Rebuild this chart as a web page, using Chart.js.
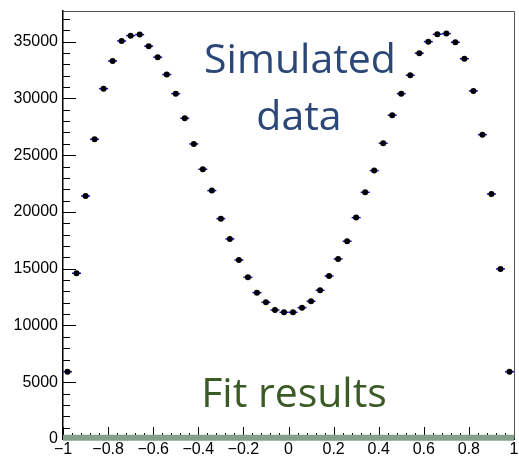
<!DOCTYPE html>
<html lang="en">
<head>
  <meta charset="UTF-8">
  <title>Simulated data vs fit results</title>
  <style>
    html, body { margin: 0; padding: 0; background: #fff; }
    canvas { display: block; }
  </style>
</head>
<body>
  <canvas id="histChart" width="519" height="458"></canvas>

  <script src="https://cdn.jsdelivr.net/npm/chart.js"></script>
  <script>
    // bin centres (50 bins of width 0.04 between -1 and 1)
    const binCenters = [
      -0.98, -0.94, -0.90, -0.86, -0.82, -0.78, -0.74, -0.70, -0.66, -0.62,
      -0.58, -0.54, -0.50, -0.46, -0.42, -0.38, -0.34, -0.30, -0.26, -0.22,
      -0.18, -0.14, -0.10, -0.06, -0.02, 0.02, 0.06, 0.10, 0.14, 0.18,
      0.22, 0.26, 0.30, 0.34, 0.38, 0.42, 0.46, 0.50, 0.54, 0.58,
      0.62, 0.66, 0.70, 0.74, 0.78, 0.82, 0.86, 0.90, 0.94, 0.98
    ];
    const binHalfWidth = 0.02;

    // simulated data counts
    const simulatedCounts = [
      5930, 14600, 21410, 26400, 30860, 33300, 35060, 35530, 35620, 34600,
      33630, 32100, 30420, 28250, 25990, 23760, 21880, 19410, 17620, 15770,
      14240, 12890, 12040, 11360, 11160, 11160, 11570, 12130, 13100, 14360,
      15860, 17420, 19500, 21730, 23640, 26050, 28520, 30420, 32040, 33980,
      35000, 35650, 35710, 34950, 33500, 30660, 26810, 21580, 14980, 5930
    ];

    // fit result (flat band near zero)
    const fitX = [-1, 1];
    const fitY = [100, 100];

    // axis ticks
    const xTickValues = [-1, -0.8, -0.6, -0.4, -0.2, 0, 0.2, 0.4, 0.6, 0.8, 1];
    const xTickLabels = ['\u22121', '\u22120.8', '\u22120.6', '\u22120.4', '\u22120.2', '0', '0.2', '0.4', '0.6', '0.8', '1'];
    const yTickValues = [0, 5000, 10000, 15000, 20000, 25000, 30000, 35000];
    const yTickLabels = ['0', '5000', '10000', '15000', '20000', '25000', '30000', '35000'];

    const axisFont = { family: "'Liberation Sans', Arial, sans-serif", size: 16 };

    // ROOT-like decorations: inward ticks, error bars, frame, overlay texts
    const rootStyle = {
      id: 'rootStyle',
      beforeDatasetsDraw(chart) {
        const ctx = chart.ctx;
        const xs = chart.scales.x, ys = chart.scales.y;
        const a = chart.chartArea;
        ctx.save();
        ctx.strokeStyle = '#000';
        ctx.lineWidth = 1;
        // y ticks (inside)
        for (let v = 0; v <= ys.max; v += 1000) {
          const py = Math.round(ys.getPixelForValue(v)) + 0.5;
          const len = v % 5000 === 0 ? 13 : 7;
          ctx.beginPath();
          ctx.moveTo(a.left, py);
          ctx.lineTo(a.left + len, py);
          ctx.stroke();
        }
        // x ticks (inside)
        for (let i = 0; i <= 50; i++) {
          const v = -1 + i * 0.04;
          const px = Math.round(xs.getPixelForValue(v)) + 0.5;
          const len = i % 5 === 0 ? 12 : 6;
          ctx.beginPath();
          ctx.moveTo(px, a.bottom);
          ctx.lineTo(px, a.bottom - len);
          ctx.stroke();
        }
        // horizontal error bars (bin width)
        ctx.strokeStyle = '#1010d0';
        ctx.lineWidth = 1.5;
        binCenters.forEach((c, i) => {
          const py = ys.getPixelForValue(simulatedCounts[i]);
          ctx.beginPath();
          ctx.moveTo(xs.getPixelForValue(c - binHalfWidth), py);
          ctx.lineTo(xs.getPixelForValue(c + binHalfWidth), py);
          ctx.stroke();
        });
        ctx.restore();
      },
      afterDraw(chart) {
        const ctx = chart.ctx;
        const a = chart.chartArea;
        ctx.save();
        // top and right frame
        ctx.strokeStyle = '#555';
        ctx.lineWidth = 1;
        ctx.beginPath();
        ctx.moveTo(a.left, a.top + 0.5);
        ctx.lineTo(a.right + 0.5, a.top + 0.5);
        ctx.lineTo(a.right + 0.5, a.bottom);
        ctx.stroke();
        // overlay texts
        ctx.textAlign = 'center';
        ctx.textBaseline = 'alphabetic';
        ctx.font = "41px 'Open Sans', sans-serif";
        ctx.fillStyle = '#2a4778';
        ctx.fillText('Simulated', 300, 73);
        ctx.fillText('data', 299, 130);
        ctx.fillStyle = '#3a5a26';
        ctx.fillText('Fit results', 294, 407);
        ctx.restore();
      }
    };

    const ctx = document.getElementById('histChart').getContext('2d');
    new Chart(ctx, {
      type: 'scatter',
      data: {
        datasets: [
          {
            label: 'Fit results',
            type: 'line',
            data: fitX.map((x, i) => ({ x: x, y: fitY[i] })),
            borderColor: '#849f8a',
            borderWidth: 6,
            pointRadius: 0,
            clip: false,
            order: 1
          },
          {
            label: 'Simulated data',
            data: binCenters.map((c, i) => ({ x: c, y: simulatedCounts[i] })),
            backgroundColor: '#000',
            borderWidth: 0,
            pointRadius: 3,
            order: 2
          }
        ]
      },
      options: {
        responsive: false,
        animation: false,
        layout: { padding: { top: 11, right: 5, left: 0, bottom: 0 } },
        scales: {
          x: {
            type: 'linear',
            min: -1,
            max: 1,
            afterBuildTicks: s => { s.ticks = xTickValues.map(v => ({ value: v })); },
            afterFit: s => {
              s.height = 19;
              s.paddingLeft = 0;
              s.paddingRight = 0;
            },
            ticks: {
              callback: (v, i) => xTickLabels[i],
              font: axisFont,
              color: '#000',
              padding: 1,
              maxRotation: 0,
              autoSkip: false
            },
            grid: { drawOnChartArea: false, drawTicks: false },
            border: { color: '#000', width: 1 }
          },
          y: {
            min: 0,
            max: 37700,
            afterBuildTicks: s => { s.ticks = yTickValues.map(v => ({ value: v })); },
            afterFit: s => {
              s.width = 63;
              s.paddingTop = 0;
              s.paddingBottom = 0;
            },
            ticks: {
              callback: (v, i) => yTickLabels[i],
              font: axisFont,
              color: '#000',
              padding: 5,
              autoSkip: false
            },
            grid: { drawOnChartArea: false, drawTicks: false },
            border: { color: '#000', width: 1.5 }
          }
        },
        plugins: {
          legend: { display: false },
          tooltip: { enabled: false }
        }
      },
      plugins: [rootStyle]
    });
  </script>
</body>
</html>
